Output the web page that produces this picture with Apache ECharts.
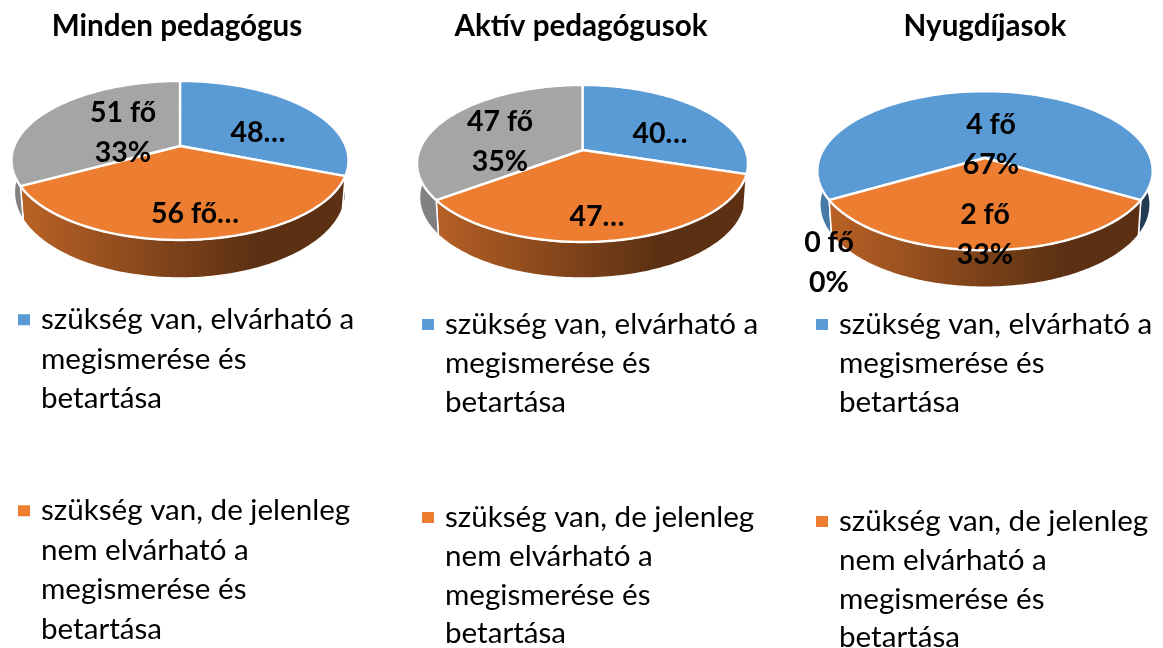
<!DOCTYPE html>
<html><head><meta charset="utf-8">
<style>html,body{margin:0;padding:0;background:#fff}#c{width:1163px;height:648px}</style>
<script src="https://cdn.jsdelivr.net/npm/echarts@6/dist/echarts.min.js"></script>
</head><body><div id="c"></div>
<script>
// ---- data ----
const categories = [
  'szükség van, elvárható a\nmegismerése és\nbetartása',
  'szükség van, de jelenleg\nnem elvárható a\nmegismerése és\nbetartása',
  'nincs szükség rá'
];
const pieTitles = ['Minden pedagógus', 'Aktív pedagógusok', 'Nyugdíjasok'];
const valuesAll = [48, 56, 51];
const valuesActive = [40, 47, 47];
const valuesRetired = [4, 2, 0];
const labelsAll = ['48…', '56 fő…', '51 fő\n33%'];
const labelsActive = ['40…', '47…', '47 fő\n35%'];
const labelsRetired = ['4 fő\n67%', '2 fő\n33%', '0 fő\n0%'];
const colors = ['#5B9BD5', '#ED7D31', '#A5A5A5'];

// ---- layout ----
const FONT = 'Lato, "Open Sans", sans-serif';
const pies = [
  {values: valuesAll, labels: labelsAll, cx: 180, cy: 146, rw: 165.7, rh: 76.9, persp: 0.182, bx: 0.983, by: 1.08, drop: 30.5, startDeg: 0,
   titleX: 177, labelAt: [[258,133],[195,214],[123,133]], legendX: 18, legendY: [300, 491], lineH: 39.5},
  {values: valuesActive, labels: labelsActive, cx: 582.5, cy: 150, rw: 163, rh: 76.2, persp: 0.172, bx: 0.985, by: 1.03, drop: 33.3, startDeg: 0,
   titleX: 581, labelAt: [[660,134],[597,217],[500,142]], legendX: 422, legendY: [305, 498], lineH: 38.8},
  {values: valuesRetired, labels: labelsRetired, cx: 985, cy: 158, rw: 165.5, rh: 77.5, persp: 0.16, bx: 0.985, by: 1.04, drop: 33.3, startDeg: 240,
   titleX: 985, labelAt: [[991,145],[985,235],[829,263]], legendX: 816, legendY: [305, 502], lineH: 38.8}
];

function shade(hex, f) {
  const n = parseInt(hex.slice(1), 16);
  const c = [n >> 16 & 255, n >> 8 & 255, n & 255].map(v => Math.round(v * f));
  return 'rgb(' + c.join(',') + ')';
}
function project(p, t) {
  const u = Math.sin(t), v = -Math.cos(t), s = 1 / (1 - p.persp * v);
  return [p.cx + p.rw * u * s, p.cy + p.rh * v * s];
}
function lower(p, q) {
  return [p.cx + (q[0] - p.cx) * p.bx, p.cy + p.drop + (q[1] - p.cy) * p.by];
}
function sliceRenderer(p, idx) {
  return function (params, api) {
    const val = api.value(0);
    const total = p.values.reduce((a, b) => a + b, 0);
    const before = p.values.slice(0, idx).reduce((a, b) => a + b, 0);
    const a0 = p.startDeg * Math.PI / 180 + before / total * 2 * Math.PI;
    const a1 = a0 + val / total * 2 * Math.PI;
    const steps = Math.max(2, Math.ceil((a1 - a0) / 0.02));
    const rim = [];
    for (let i = 0; i <= steps; i++) rim.push(project(p, a0 + (a1 - a0) * i / steps));
    const children = [];
    const halfW = p.rw * 1.02;
    if (val > 0) {
      const wall = rim.concat(rim.map(q => lower(p, q)).reverse());
      children.push({
        type: 'polygon', z2: 1, shape: {points: wall},
        style: {
          fill: new echarts.graphic.LinearGradient(p.cx - halfW, 0, p.cx + halfW, 0, [
            {offset: 0, color: shade(colors[idx], 0.8)},
            {offset: 0.72, color: shade(colors[idx], 0.39)},
            {offset: 1, color: shade(colors[idx], 0.39)}
          ], true),
          stroke: '#fff', lineWidth: 1.5, lineJoin: 'round'
        }
      });
      children.push({
        type: 'polygon', z2: 2, shape: {points: [[p.cx, p.cy]].concat(rim)},
        style: {fill: colors[idx], stroke: '#fff', lineWidth: 2.4, lineJoin: 'round'}
      });
    }
    children.push({
      type: 'text', z2: 3,
      style: {
        x: p.labelAt[idx][0], y: p.labelAt[idx][1], text: p.labels[idx], fill: '#000',
        font: 'bold 28.5px ' + FONT, lineHeight: 40, align: 'center', verticalAlign: 'middle'
      }
    });
    return {type: 'group', children: children};
  };
}

const series = [];
pies.forEach(p => p.values.forEach((v, i) => series.push({
  type: 'custom', name: categories[i], coordinateSystem: 'none', silent: true, animation: false,
  itemStyle: {color: colors[i]}, data: [[v]], renderItem: sliceRenderer(p, i)
})));

function legendIcon(h, lineH) {
  const pad = lineH / 2 - 5.5;
  return 'path://M0,0L0.01,0M0,' + pad + 'h12v11h-12zM18,' + h + 'L17.99,' + h;
}
const legends = [];
pies.forEach(p => [0, 1].forEach(i => {
  const lines = categories[i].split('\n').length, h = lines * p.lineH;
  legends.push({
    data: [categories[i]], orient: 'vertical', left: p.legendX, top: p.legendY[i], padding: 0,
    selectedMode: false, icon: legendIcon(h, p.lineH), itemWidth: 18, itemHeight: h,
    textStyle: {fontFamily: FONT, fontSize: 29.6, lineHeight: p.lineH, color: '#000'}
  });
}));

const chart = echarts.init(document.getElementById('c'), null, {renderer: 'canvas'});
chart.setOption({
  backgroundColor: '#fff',
  animation: false,
  title: pies.map((p, i) => ({
    text: pieTitles[i], left: p.titleX, top: 11, textAlign: 'center', padding: 0,
    textStyle: {fontFamily: FONT, fontWeight: 'bold', fontSize: 29.6, color: '#000'}
  })),
  legend: legends,
  series: series
});
</script></body></html>
